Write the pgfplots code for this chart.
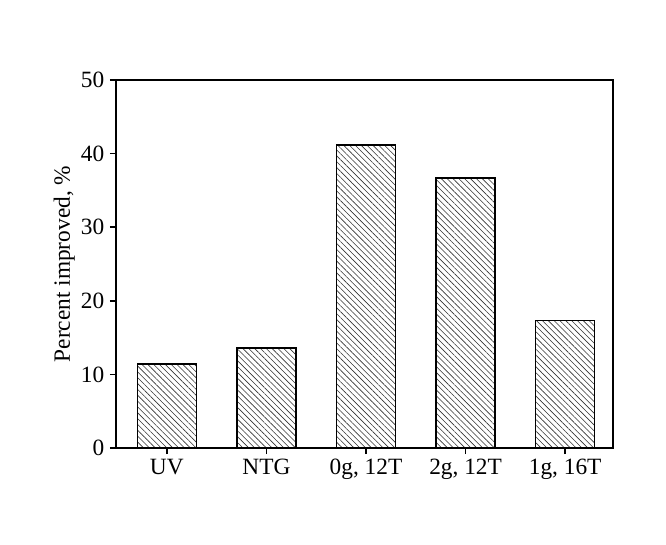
\documentclass[border=0pt]{standalone}
\usepackage{pgfplots}
\pgfplotsset{compat=1.18}
\usetikzlibrary{patterns.meta}
\usepackage{fontspec}
\setmainfont{Liberation Serif}
\begin{document}
\fontsize{17}{20}\selectfont
\begin{tikzpicture}
\begin{axis}[
  at={(0,0)}, anchor=south west,
  scale only axis,
  width=372.75pt, height=276pt,
  xmin=-0.51, xmax=4.48,
  ymin=0, ymax=50,
  ytick={0,10,20,30,40,50},
  xtick={0,1,2,3,4},
  xticklabels={UV,NTG,{0g, 12T},{2g, 12T},{1g, 16T}},
  tick pos=left,
  tick align=outside,
  major tick length=4.5pt,
  axis line style={line width=1.1pt},
  every tick/.style={black, line width=1.1pt},
  tick label style={font=\fontsize{17.5}{20}\selectfont},
  label style={font=\fontsize{17.5}{20}\selectfont},
  /pgf/number format/assume math mode=true,
  ylabel={Percent improved, \%},
  ylabel style={yshift=-7pt},
  xticklabel style={yshift=2pt},
  yticklabel style={xshift=1.5pt},
  ybar, bar width=44.25pt,
]
\addplot[draw=black, line width=1.1pt,
  pattern={Lines[angle=-45, distance=3.1pt, line width=0.45pt]}, pattern color=black!80]
  coordinates {(0,11.4) (1,13.6) (2,41.2) (3,36.7) (4,17.3)};
\end{axis}
\pgfresetboundingbox
\path[use as bounding box] (-87pt,-72pt) rectangle (412.5pt,336pt);
\end{tikzpicture}
\end{document}
